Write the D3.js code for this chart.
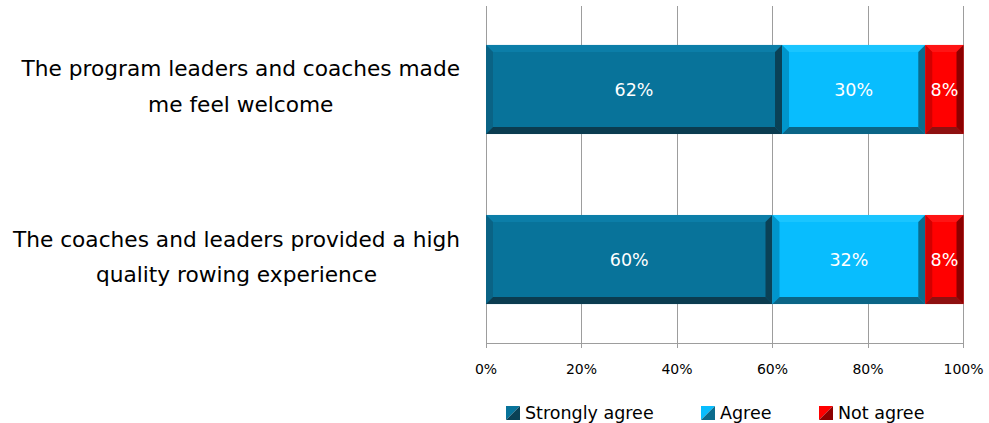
<!DOCTYPE html>
<html>
<head>
<meta charset="utf-8">
<script src="https://cdn.jsdelivr.net/npm/d3@7"></script>
<style>
  html, body { margin: 0; padding: 0; background: #ffffff; }
  svg { display: block; font-family: "DejaVu Sans", Verdana, sans-serif; }
</style>
</head>
<body>
<svg id="chart" width="989" height="423"></svg>
<script>
// Survey statements (each drawn on two lines)
const categories = [
  "The program leaders and coaches made me feel welcome",
  "The coaches and leaders provided a high quality rowing experience"
];
const categoryLines = [
  ["The program leaders and coaches made", "me feel welcome"],
  ["The coaches and leaders provided a high", "quality rowing experience"]
];
const seriesNames = ["Strongly agree", "Agree", "Not agree"];
const stronglyAgree = [62, 60];
const agree = [30, 32];
const notAgree = [8, 8];
const tickValues = [0, 20, 40, 60, 80, 100];

// Bevelled fill palette per series: face, top, left, right, bottom
const palette = [
  { face: "#08739a", top: "#0c7ea8", left: "#0a6385", right: "#0a4156", bottom: "#0b3c50" },
  { face: "#08bdfe", top: "#1ac5ff", left: "#0096cc", right: "#0b6c8d", bottom: "#0b6586" },
  { face: "#ff0000", top: "#ff1414", left: "#d20000", right: "#8c0000", bottom: "#8e1010" }
];

const svg = d3.select("#chart");
const margin = { left: 486, right: 25.5, top: 6, bottom: 80 };
const W = 989, H = 423;

const x = d3.scaleLinear().domain([0, 100]).range([margin.left, W - margin.right]);
const y = d3.scaleBand().domain(categories).range([margin.top, H - margin.bottom])
  .paddingInner(0.476).paddingOuter(0.229);

const series = [stronglyAgree, agree, notAgree];
const stacked = d3.stack().keys([0, 1, 2]).value((d, k) => series[k][d])(categories.map((c, i) => i));

// Gridlines (extend below the axis as tick marks)
const gridColor = "#9d9d9d";
svg.append("g").selectAll("line").data(tickValues).join("line")
  .attr("x1", d => x(d)).attr("x2", d => x(d))
  .attr("y1", margin.top).attr("y2", H - margin.bottom + 5)
  .attr("stroke", gridColor).attr("stroke-width", 1)
  .attr("shape-rendering", "crispEdges");

// Baseline axis
svg.append("line")
  .attr("x1", x(0)).attr("x2", x(100))
  .attr("y1", H - margin.bottom).attr("y2", H - margin.bottom)
  .attr("stroke", gridColor).attr("shape-rendering", "crispEdges");

// Tick labels
svg.append("g").selectAll("text").data(tickValues).join("text")
  .attr("x", d => x(d)).attr("y", 374)
  .attr("text-anchor", "middle")
  .attr("font-size", 14).attr("fill", "#000")
  .text(d => d + "%");

// Bevelled segment drawing
function bevel(g, x0, y0, w, h, c) {
  const b = Math.min(7, w / 2, h / 2);
  const x1 = x0 + w, y1 = y0 + h;
  g.append("rect").attr("x", x0).attr("y", y0).attr("width", w).attr("height", h).attr("fill", c.face);
  const poly = (pts, fill) => g.append("polygon").attr("points", pts.map(p => p.join(",")).join(" ")).attr("fill", fill);
  poly([[x0, y0], [x1, y0], [x1 - b, y0 + b], [x0 + b, y0 + b]], c.top);
  poly([[x0, y0], [x0 + b, y0 + b], [x0 + b, y1 - b], [x0, y1]], c.left);
  poly([[x1, y0], [x1, y1], [x1 - b, y1 - b], [x1 - b, y0 + b]], c.right);
  poly([[x0, y1], [x0 + b, y1 - b], [x1 - b, y1 - b], [x1, y1]], c.bottom);
}

const bars = svg.append("g");
stacked.forEach((layer, k) => {
  layer.forEach((seg, i) => {
    const cat = categories[i];
    const g = bars.append("g");
    const x0 = x(seg[0]), w = x(seg[1]) - x(seg[0]);
    bevel(g, x0, y(cat), w, y.bandwidth(), palette[k]);
    g.append("text")
      .attr("x", x0 + w / 2)
      .attr("y", y(cat) + y.bandwidth() / 2 + 6.5)
      .attr("text-anchor", "middle")
      .attr("font-size", 17.5).attr("fill", "#ffffff")
      .text(series[k][i] + "%");
  });
});

// Category labels, centred as a block whose right edge sits left of the plot
const labelRight = 460;
const labelSize = 21.7;
categories.forEach((cat, i) => {
  const cy = y(cat) + y.bandwidth() / 2;
  const t = svg.append("text").attr("font-size", labelSize).attr("fill", "#000").attr("text-anchor", "middle");
  const lines = categoryLines[i];
  const widths = lines.map(l => {
    const m = svg.append("text").attr("font-size", labelSize).text(l);
    const len = m.node().getComputedTextLength();
    m.remove();
    return len;
  });
  const maxW = d3.max(widths);
  lines.forEach((l, j) => {
    t.append("tspan")
      .attr("x", labelRight - maxW / 2)
      .attr("y", cy - 13 + j * 35.5)
      .text(l);
  });
});

// Legend
const legendX = [506, 701, 819];
const legend = svg.append("g");
seriesNames.forEach((name, k) => {
  const lx = legendX[k], ly = 406, s = 14;
  const c = palette[k];
  legend.append("polygon")
    .attr("points", [[lx, ly], [lx + s, ly], [lx, ly + s]].map(p => p.join(",")).join(" "))
    .attr("fill", c.face);
  legend.append("polygon")
    .attr("points", [[lx + s, ly], [lx + s, ly + s], [lx, ly + s]].map(p => p.join(",")).join(" "))
    .attr("fill", c.right);
  legend.append("text")
    .attr("x", lx + 19).attr("y", ly + 12.5)
    .attr("font-size", 17.5).attr("fill", "#000")
    .text(name);
});
</script>
</body>
</html>
